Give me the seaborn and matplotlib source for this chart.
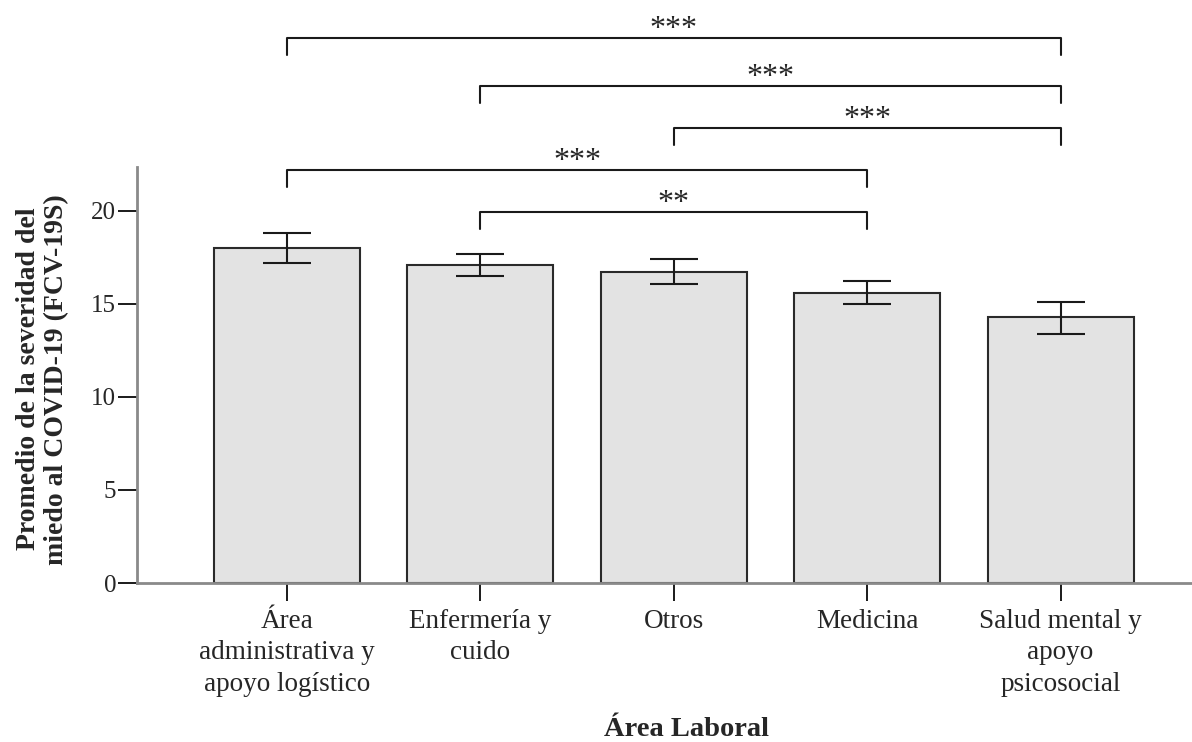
"""Mean fear-of-COVID severity by work area, with significance brackets."""

import matplotlib

matplotlib.use("Agg")
import matplotlib.pyplot as plt
import pandas as pd
import seaborn as sns

areas = [
    "Área\nadministrativa y\napoyo logístico",
    "Enfermería y\ncuido",
    "Otros",
    "Medicina",
    "Salud mental y\napoyo\npsicosocial",
]
means = [18.0, 17.1, 16.7, 15.6, 14.3]
err_low = [17.2, 16.5, 16.05, 15.0, 13.4]
err_high = [18.8, 17.7, 17.4, 16.25, 15.1]

# significance pairs (bar index a, bar index b) and stars
pairs = [(1, 3), (0, 3), (2, 4), (1, 4), (0, 4)]
stars = ["**", "***", "***", "***", "***"]
bracket_y = [19.95, 22.2, 24.45, 26.7, 29.3]

df = pd.DataFrame({"area": areas, "mean": means})

sns.set_theme(style="white")
plt.rcParams["font.family"] = ["Liberation Serif", "DejaVu Serif"]
plt.rcParams["xtick.bottom"] = True
plt.rcParams["ytick.left"] = True

fig = plt.figure(figsize=(11.92, 7.42), dpi=100)
ax = fig.add_axes([137 / 1192, 159 / 742, 1 - 137 / 1192, 416 / 742])

sns.barplot(
    data=df,
    x="area",
    y="mean",
    color="#e3e3e3",
    edgecolor="#2a2a2a",
    linewidth=1.5,
    width=0.755,
    errorbar=None,
    saturation=1,
    ax=ax,
)
yerr = [
    [m - lo for m, lo in zip(means, err_low)],
    [hi - m for m, hi in zip(means, err_high)],
]
ax.errorbar(
    range(len(areas)), means, yerr=yerr, fmt="none",
    ecolor="#1a1a1a", elinewidth=1.5, capsize=17.5, capthick=1.5,
)

ax.set_xlim(-0.776, 4.68)
ax.set_ylim(0, 22.35)
ax.set_yticks([0, 5, 10, 15, 20])
ax.tick_params(axis="y", length=14, width=1.4, color="#1a1a1a",
               labelsize=18, pad=1, left=True)
ax.tick_params(axis="x", length=13, width=1.4, color="#1a1a1a",
               labelsize=19.5, pad=6, bottom=True)
for lab in ax.get_xticklabels():
    lab.set_linespacing(1.32)
sns.despine(ax=ax, top=True, right=True)
for side in ["left", "bottom"]:
    ax.spines[side].set_color("#8a8a8a")
    ax.spines[side].set_linewidth(2)
ax.set_xlabel("")
ax.set_ylabel("Promedio de la severidad del\nmiedo al COVID-19 (FCV-19S)",
              fontsize=20, fontweight="bold", linespacing=1.18)
ax.yaxis.set_label_coords(-0.064, 0.49)
fig.text(687 / 1192, 12 / 742, "Área Laboral", fontsize=20.5,
         fontweight="bold", ha="center", va="center")

tick = 0.93
for (a, b), s, y in zip(pairs, stars, bracket_y):
    ax.plot([a, a, b, b], [y - tick, y, y, y - tick], color="#1a1a1a",
            lw=1.5, clip_on=False)
    ax.text((a + b) / 2, y + 0.05, s, ha="center", va="baseline",
            fontsize=23, clip_on=False)

fig.savefig("out.png", dpi=100)
